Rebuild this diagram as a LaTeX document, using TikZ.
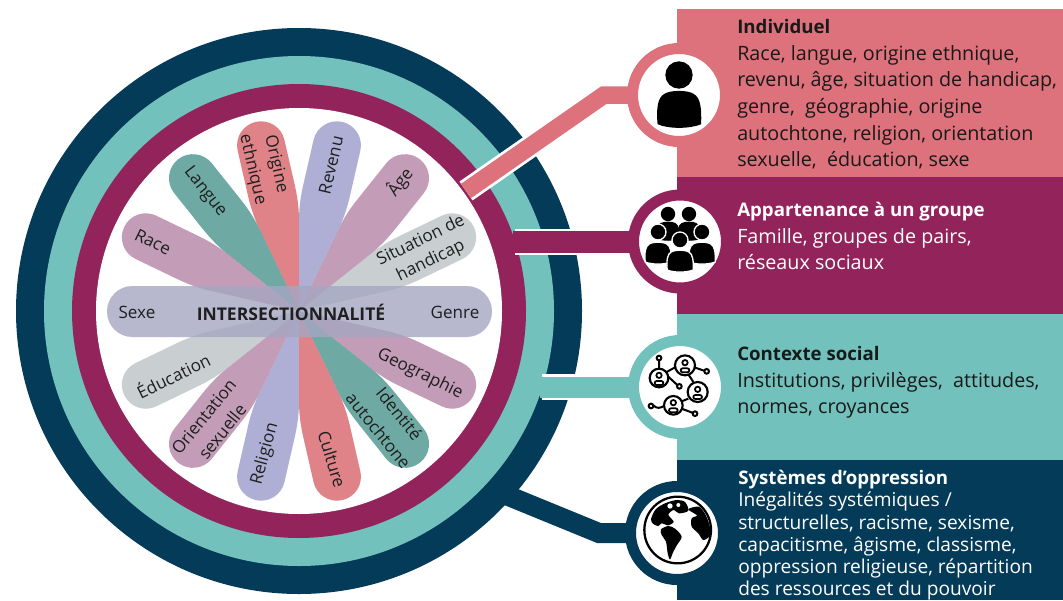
\documentclass[tikz,border=0pt]{standalone}
\usepackage{fontspec}
\setmainfont{Open Sans}
\definecolor{cPink}{HTML}{DD727C}
\definecolor{cMag}{HTML}{93245B}
\definecolor{cTeal}{HTML}{72C1BD}
\definecolor{cNavy}{HTML}{033B59}
\definecolor{pMauve}{HTML}{B585A6}
\definecolor{pGreen}{HTML}{4A948D}
\definecolor{pRed}{HTML}{D8656C}
\definecolor{pBlue}{HTML}{9B9CCB}
\definecolor{pGrey}{HTML}{BCC3C6}
\definecolor{pBar}{HTML}{A5A6C2}
\pgfdeclarelayer{rings}
\pgfdeclarelayer{conn}
\pgfsetlayers{rings,conn,main}
\newcommand\petal[2]{%
  \begin{scope}[shift={(299,311)},x=.75pt,y=.75pt,rotate=#1]
    \fill[#2,opacity=.8] (0,0) -- (92,21) .. controls (102,23) and (112,24) .. (125,24) -- (170,24)
      arc[start angle=90,end angle=-90,radius=24] -- (125,-24)
      .. controls (112,-24) and (102,-23) .. (92,-21) -- cycle;
  \end{scope}}
% person: head centre #1,#2 radius #3 ; body scaled from it ; #4 = outline
\newcommand\persona[4]{%
  \begin{scope}[shift={(#1,#2)},x=#3*.75pt,y=-#3*.75pt]
    \filldraw[black,draw=#4,line width=1pt] (0,0) circle[radius=1];
    \filldraw[black,draw=#4,line width=1pt]
      (-1.6,3.75) .. controls (-1.7,2.6) and (-1.6,1.75) .. (-1.1,1.5)
      .. controls (-.7,1.2) and (.7,1.2) .. (1.1,1.5)
      .. controls (1.6,1.75) and (1.7,2.6) .. (1.65,3.75)
      .. controls (.8,4.1) and (-.8,4.1) .. cycle;
  \end{scope}}
\newcommand\netperson[3]{%
  \draw[black,line width=1.6pt,fill=white] (#1,#2) circle[radius=#3];
  \draw[black,line width=1.3pt] (#1,#2-8) circle[radius=8];
  \draw[black,line width=1.3pt,rounded corners=1.5pt] (#1-13,#2+9) rectangle (#1+13,#2+21);}
\tikzset{
  x=.75pt,y=-.75pt,
  ringnode/.style={circle,inner sep=0pt,outer sep=0pt,minimum size=#1*.75pt},
  iconnode/.style={circle,fill=white,line width=11*.75pt,inner sep=0pt,outer sep=0pt,minimum size=93*.75pt},
  petaltext/.style={font=\fontsize{12.8}{17}\selectfont,text=black!88,align=center,inner sep=0pt},
  paneltext/.style={anchor=north west,align=left,inner sep=0pt,font=\fontsize{14.8}{20}\selectfont},
  halo/.style={white,line width=26*.75pt},
  link/.style={line width=#1*.75pt}
}
\begin{document}
\begin{tikzpicture}
\useasboundingbox (0,0) rectangle (1063,600);
\begin{pgfonlayer}{rings}
  \fill[white] (0,0) rectangle (1063,600);
  \node[ringnode=566,fill=cNavy] (ringN) at (299,311) {};
  \node[ringnode=510,fill=cTeal] (ringT) at (299,311) {};
  \node[ringnode=454,fill=cMag] (ringM) at (299,311) {};
  \node[ringnode=406,fill=white] (ringW) at (299,311) {};
\end{pgfonlayer}

% petals
\petal{25.7}{pGrey}
\petal{51.4}{pMauve}
\petal{77.1}{pBlue}
\petal{102.9}{pRed}
\petal{128.6}{pGreen}
\petal{154.3}{pMauve}
\petal{-25.7}{pMauve}
\petal{-51.4}{pGreen}
\petal{-77.1}{pRed}
\petal{-102.9}{pBlue}
\petal{-128.6}{pMauve}
\petal{-154.3}{pGrey}
\fill[pBar,opacity=.8,rounded corners=19pt] (107,286) rectangle (492,337);

\node[petaltext,rotate=-26] (tRace) at (153,242) {Race};
\node[petaltext,rotate=-52] (tLangue) at (205,192) {Langue};
\node[petaltext,rotate=-77,font=\fontsize{12.8}{18}\selectfont] (tOrigine) at (264,167) {Origine\\ethnique};
\node[petaltext,rotate=77] (tRevenu) at (331,165) {Revenu};
\node[petaltext,rotate=52] (tAge) at (400,182) {Âge};
\node[petaltext,rotate=26] (tSituation) at (426,251) {Situation de\\handicap};
\node[petaltext] (tSexe) at (137,312) {Sexe};
\node[petaltext,font=\fontsize{13.15}{15.5}\selectfont\bfseries] (tCentre) at (291,312) {INTERSECTIONNALITÉ};
\node[petaltext] (tGenre) at (455,312) {Genre};
\node[petaltext,rotate=26] (tEducation) at (173,375) {Éducation};
\node[petaltext,rotate=51,font=\fontsize{12.8}{18}\selectfont] (tOrientation) at (213,424) {Orientation\\sexuelle};
\node[petaltext,rotate=75] (tReligion) at (265,454) {Religion};
\node[petaltext,rotate=-73] (tCulture) at (332,459) {Culture};
\node[petaltext,rotate=-51,font=\fontsize{12.8}{20}\selectfont] (tIdentite) at (389,422) {Identité\\autochtone};
\node[petaltext,rotate=-26] (tGeographie) at (420,374) {Geographie};

% panels
\fill[cPink] (677,9) rectangle (1063,177);
\fill[cMag] (677,177) rectangle (1063,314);
\fill[cTeal] (677,314) rectangle (1063,460);
\fill[cNavy] (677,460) rectangle (1063,600);

\newcommand\ttl{\fontsize{14}{20}\selectfont\bfseries}
\node[paneltext,text=black!90] (txtA) at (737,19) {{\ttl Individuel}\\Race, langue, origine ethnique,\\revenu, âge, situation de handicap,\\genre,\ \ géographie, origine\\autochtone, religion, orientation\\sexuelle,\ \ éducation, sexe};
\node[paneltext,text=white] (txtB) at (737,202) {{\ttl Appartenance à un groupe}\\Famille, groupes de pairs,\\réseaux sociaux};
\node[paneltext,text=black!90] (txtC) at (737,346) {{\ttl Contexte social}\\Institutions, privilèges,\ \ attitudes,\\normes, croyances};
\node[paneltext,text=white,font=\fontsize{14.35}{16.7}\selectfont] (txtD) at (738,470) {{\fontsize{14}{16.7}\selectfont\bfseries Systèmes d’oppression}\\Inégalités systémiques /\\structurelles, racisme, sexisme,\\capacitisme, âgisme, classisme,\\oppression religieuse, répartition\\des ressources et du pouvoir};

% icon discs
\node[iconnode,draw=cPink] (iconA) at (679,95) {};
\node[iconnode,draw=cMag] (iconB) at (680,241.5) {};
\node[iconnode,draw=cTeal] (iconC) at (680,387) {};
\node[iconnode,draw=cNavy] (iconD) at (677,533) {};

% connectors
\coordinate (startA) at (466,191);
\coordinate (startB) at (515.3,241.5);
\coordinate (startC) at (542.2,387);
\coordinate (startD) at (511,497);
\coordinate (bendA) at (604,95);
\coordinate (bendD) at (599,533);
\begin{pgfonlayer}{conn}
  \draw[cNavy,link=20,line join=miter,shorten <=-6pt] (startD) -- (bendD) -- (iconD.center);
  \draw[halo] (startC) -- (iconC.center);
  \draw[cTeal,link=21,shorten <=-2pt] (startC) -- (iconC.center);
  \draw[halo] (startB) -- (iconB.center);
  \draw[cMag,link=22,shorten <=-2pt] (startB) -- (iconB.center);
  \draw[white,line width=23*.75pt] (startA) -- (bendA);
  \draw[cPink,link=17.5,line join=miter] (startA) -- (bendA) -- (iconA.center);
\end{pgfonlayer}

% person icon
\persona{679}{75}{13}{black}
% group icon
\persona{668}{214}{6.5}{black}
\persona{689}{214}{6.5}{black}
\persona{658}{232}{8}{white}
\persona{702}{232}{8}{white}
\persona{680}{240}{8}{white}

% network icon (crop coordinates: 1 unit = 1/3 px)
\begin{scope}[shift={(635,342)},x=.25pt,y=-.25pt]
  \draw[black,line width=1.5pt] (72,55) -- (72,85) (175,75) -- (207,86) (90,95) -- (128,130) (160,97) -- (175,120) (95,90) -- (122,75)
    (55,190) .. controls (65,200) and (75,200) .. (90,190) (140,178) -- (160,170) (140,200) -- (172,212);
  \netperson{72}{108}{28}
  \netperson{150}{70}{30}
  \netperson{188}{150}{30}
  \netperson{115}{190}{28}
  \foreach \p/\q in {72/48,215/88,133/133,48/192,180/215}
    \draw[black,line width=1.5pt,fill=white] (\p,\q) circle[radius=7];
\end{scope}

% globe icon (crop coordinates: 1 unit = 1/3 px)
\begin{scope}[shift={(635,490)},x=.25pt,y=-.25pt]
  \draw[black,line width=1.7pt] (128,120) circle[radius=100];
  \fill[black] plot[smooth cycle,tension=.5] coordinates {(48,88) (62,58) (90,40) (125,30) (150,36) (160,62) (132,70) (116,60) (100,74) (116,95) (100,106) (80,100) (70,108) (55,102)};
  \fill[white] (105,48) circle[radius=8] (130,45) circle[radius=6];
  \fill[black] plot[smooth cycle,tension=.5] coordinates {(78,118) (100,108) (120,116) (140,140) (126,165) (115,185) (105,208) (98,190) (93,155) (80,135)};
  \fill[black] plot[smooth cycle,tension=.5] coordinates {(160,58) (190,50) (208,68) (222,100) (226,135) (205,150) (190,130) (170,110) (170,85) (186,76)};
\end{scope}
\end{tikzpicture}
\end{document}
